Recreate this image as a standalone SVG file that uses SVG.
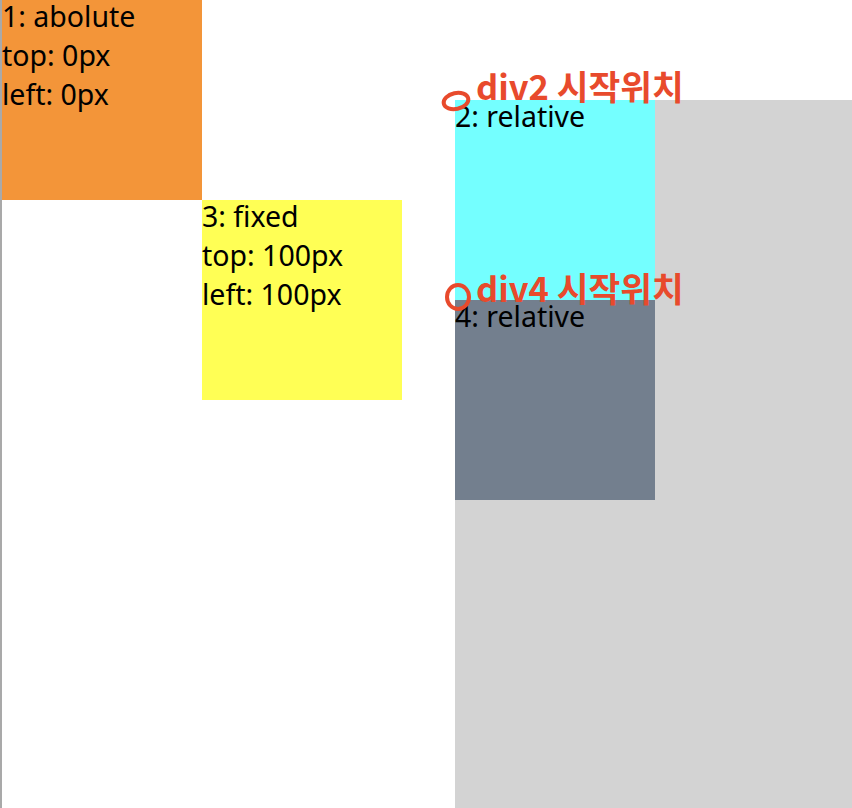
<svg xmlns="http://www.w3.org/2000/svg" width="852" height="808" viewBox="0 0 852 808">
<style>
.t{font-family:"Noto Sans","Noto Sans CJK KR",sans-serif;font-size:28.5px;fill:#000}
.a{font-family:"Noto Sans CJK KR","Noto Sans",sans-serif;font-size:34.5px;font-weight:bold;fill:#e84a2c}
</style>
<rect x="0" y="0" width="852" height="808" fill="#fff"/>
<rect x="0" y="0" width="2" height="808" fill="#a9a9a9"/>
<g id="container"><rect x="455" y="100" width="397" height="708" fill="#d3d3d3"/></g>
<g id="div1"><rect x="2" y="0" width="200" height="200" fill="#f39539"/>
<text class="t" x="2" y="27">1: abolute</text><text class="t" x="2" y="66">top: 0px</text><text class="t" x="2" y="105">left: 0px</text></g>
<g id="div3"><rect x="202" y="200" width="200" height="200" fill="#ffff55"/>
<text class="t" x="202" y="227">3: fixed</text><text class="t" x="202" y="266">top: 100px</text><text class="t" x="202" y="305">left: 100px</text></g>
<g id="div2"><rect x="455" y="100" width="200" height="200" fill="#74ffff"/>
<text class="t" x="455" y="127">2: relative</text></g>
<g id="div4"><rect x="455" y="300" width="200" height="200" fill="#737f8e"/>
<text class="t" x="455" y="327">4: relative</text></g>
<g id="annotations">
<ellipse cx="456" cy="101" rx="12.5" ry="8" fill="none" stroke="#e84a2c" stroke-width="4" transform="rotate(-12 456 101)"/>
<text class="a" x="476" y="100">div2 시작위치</text>
<ellipse cx="458" cy="297" rx="11" ry="12" fill="none" stroke="#e84a2c" stroke-width="4"/>
<text class="a" x="476" y="302">div4 시작위치</text>
</g>
</svg>
